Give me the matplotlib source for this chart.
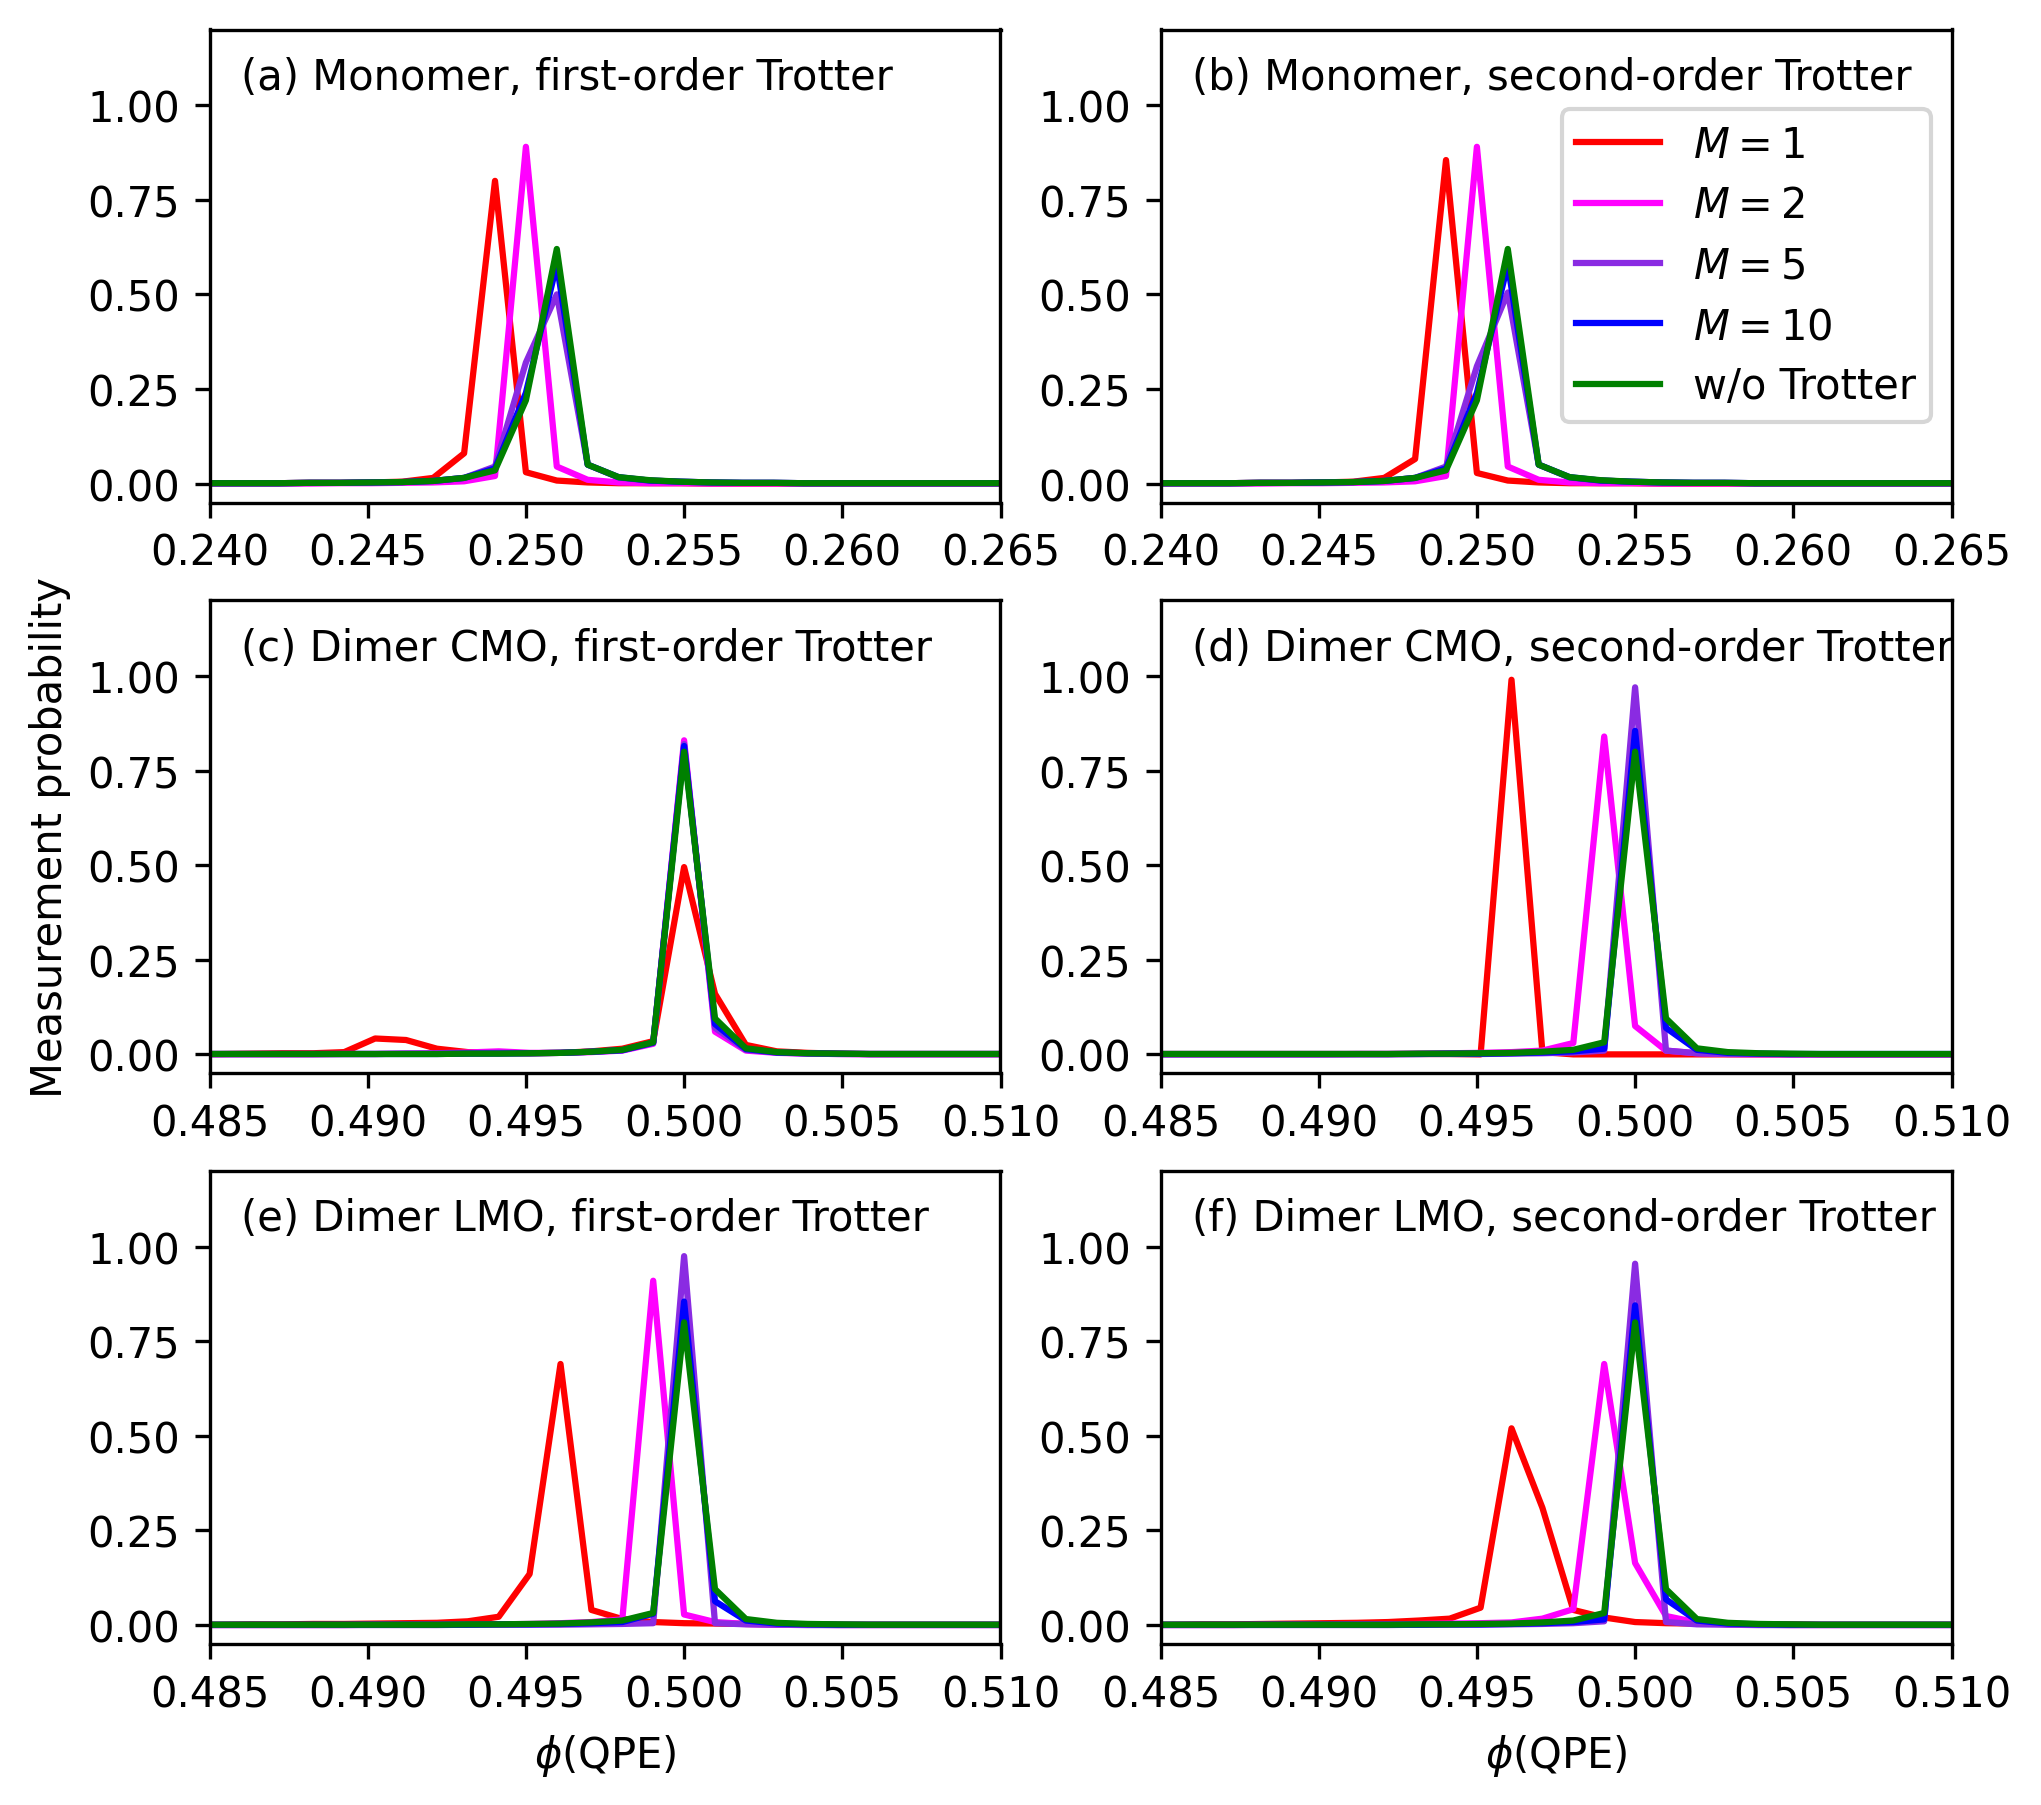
#!/usr/bin/env python3
"""QPE measurement probability for monomer / dimer, first- and second-order Trotter."""

import matplotlib
matplotlib.use("Agg")
import matplotlib.pyplot as plt
import numpy as np

# ---------------------------------------------------------------------------
# 10-qubit phase register -> bins of 1/1024
N_BINS = 1024
BINS_MONO = list(range(245, 273))    # phi ~ 0.239 .. 0.266
BINS_DIMER = list(range(496, 524))   # phi ~ 0.484 .. 0.511

LABELS = ["$M=1$", "$M=2$", "$M=5$", "$M=10$", "w/o Trotter"]
COLORS = ["red", "magenta", "blueviolet", "blue", "green"]

# --- (a) monomer, first order ---------------------------------------------
#            245    246    247    248    249    250    251    252    253    254    255    256    257    258    259    260    261    262    263    264    265    266    267    268    269    270    271    272
A_M1  = [0.001, 0.001, 0.001, 0.001, 0.002, 0.002, 0.003, 0.005, 0.015, 0.080, 0.800, 0.030, 0.008, 0.003, 0.001, 0.001, 0.001, 0.000, 0.000, 0.000, 0.000, 0.000, 0.000, 0.000, 0.000, 0.000, 0.000, 0.000]
A_M2  = [0.000, 0.000, 0.000, 0.000, 0.000, 0.001, 0.001, 0.002, 0.003, 0.006, 0.020, 0.890, 0.045, 0.010, 0.003, 0.001, 0.001, 0.000, 0.000, 0.000, 0.000, 0.000, 0.000, 0.000, 0.000, 0.000, 0.000, 0.000]
A_M5  = [0.001, 0.001, 0.001, 0.001, 0.002, 0.002, 0.003, 0.004, 0.007, 0.015, 0.045, 0.320, 0.500, 0.050, 0.016, 0.008, 0.005, 0.003, 0.002, 0.002, 0.001, 0.001, 0.001, 0.001, 0.001, 0.001, 0.001, 0.001]
A_M10 = [0.001, 0.001, 0.001, 0.001, 0.002, 0.002, 0.003, 0.004, 0.007, 0.015, 0.040, 0.240, 0.580, 0.050, 0.017, 0.008, 0.005, 0.003, 0.002, 0.002, 0.001, 0.001, 0.001, 0.001, 0.001, 0.001, 0.001, 0.001]
A_EX  = [0.001, 0.001, 0.001, 0.001, 0.002, 0.002, 0.003, 0.004, 0.007, 0.015, 0.035, 0.220, 0.620, 0.050, 0.017, 0.009, 0.005, 0.003, 0.002, 0.002, 0.001, 0.001, 0.001, 0.001, 0.001, 0.001, 0.001, 0.001]

# --- (b) monomer, second order --------------------------------------------
B_M1  = [0.001, 0.001, 0.001, 0.001, 0.002, 0.002, 0.003, 0.005, 0.015, 0.065, 0.855, 0.028, 0.008, 0.003, 0.001, 0.001, 0.001, 0.000, 0.000, 0.000, 0.000, 0.000, 0.000, 0.000, 0.000, 0.000, 0.000, 0.000]
B_M2  = [0.000, 0.000, 0.000, 0.000, 0.000, 0.001, 0.001, 0.002, 0.003, 0.006, 0.020, 0.890, 0.045, 0.010, 0.003, 0.001, 0.001, 0.000, 0.000, 0.000, 0.000, 0.000, 0.000, 0.000, 0.000, 0.000, 0.000, 0.000]
B_M5  = [0.001, 0.001, 0.001, 0.001, 0.002, 0.002, 0.003, 0.004, 0.007, 0.015, 0.045, 0.310, 0.505, 0.050, 0.016, 0.008, 0.005, 0.003, 0.002, 0.002, 0.001, 0.001, 0.001, 0.001, 0.001, 0.001, 0.001, 0.001]
B_M10 = [0.001, 0.001, 0.001, 0.001, 0.002, 0.002, 0.003, 0.004, 0.007, 0.015, 0.040, 0.240, 0.580, 0.050, 0.017, 0.008, 0.005, 0.003, 0.002, 0.002, 0.001, 0.001, 0.001, 0.001, 0.001, 0.001, 0.001, 0.001]
B_EX  = [0.001, 0.001, 0.001, 0.001, 0.002, 0.002, 0.003, 0.004, 0.007, 0.015, 0.035, 0.220, 0.620, 0.050, 0.017, 0.009, 0.005, 0.003, 0.002, 0.002, 0.001, 0.001, 0.001, 0.001, 0.001, 0.001, 0.001, 0.001]

# --- dimer, exact (same for CMO / LMO) ------------------------------------
#            496    497    498    499    500    501    502    503    504    505    506    507    508    509    510    511    512    513    514    515    516    517    518    519    520    521    522    523
D_EX  = [0.001, 0.001, 0.001, 0.001, 0.001, 0.001, 0.001, 0.001, 0.001, 0.002, 0.002, 0.003, 0.004, 0.007, 0.012, 0.032, 0.800, 0.095, 0.016, 0.006, 0.003, 0.002, 0.001, 0.001, 0.001, 0.001, 0.001, 0.001]

# --- (c) dimer CMO, first order -------------------------------------------
C_M1  = [0.001, 0.001, 0.002, 0.003, 0.003, 0.006, 0.042, 0.038, 0.015, 0.006, 0.004, 0.003, 0.004, 0.008, 0.015, 0.035, 0.495, 0.160, 0.025, 0.008, 0.004, 0.002, 0.001, 0.001, 0.001, 0.001, 0.001, 0.001]
C_M2  = [0.000, 0.000, 0.000, 0.000, 0.000, 0.001, 0.001, 0.002, 0.003, 0.005, 0.008, 0.004, 0.004, 0.006, 0.010, 0.028, 0.830, 0.060, 0.010, 0.004, 0.002, 0.001, 0.000, 0.000, 0.000, 0.000, 0.000, 0.000]
C_M5  = [0.001, 0.001, 0.001, 0.001, 0.001, 0.001, 0.001, 0.002, 0.002, 0.003, 0.004, 0.003, 0.004, 0.007, 0.011, 0.030, 0.820, 0.070, 0.012, 0.005, 0.002, 0.001, 0.001, 0.001, 0.001, 0.001, 0.001, 0.001]
C_M10 = [0.001, 0.001, 0.001, 0.001, 0.001, 0.001, 0.001, 0.001, 0.001, 0.002, 0.002, 0.003, 0.004, 0.007, 0.011, 0.031, 0.815, 0.080, 0.014, 0.005, 0.003, 0.002, 0.001, 0.001, 0.001, 0.001, 0.001, 0.001]

# --- (d) dimer CMO, second order ------------------------------------------
Dc_M1  = [0.001, 0.001, 0.001, 0.001, 0.001, 0.001, 0.001, 0.001, 0.001, 0.001, 0.001, 0.000, 0.990, 0.006, 0.000, 0.000, 0.000, 0.000, 0.000, 0.000, 0.000, 0.000, 0.000, 0.000, 0.000, 0.000, 0.000, 0.000]
Dc_M2  = [0.000, 0.000, 0.000, 0.000, 0.000, 0.000, 0.000, 0.001, 0.001, 0.002, 0.003, 0.004, 0.006, 0.010, 0.030, 0.840, 0.075, 0.010, 0.003, 0.001, 0.000, 0.000, 0.000, 0.000, 0.000, 0.000, 0.000, 0.000]
Dc_M5  = [0.000, 0.000, 0.000, 0.000, 0.000, 0.000, 0.000, 0.000, 0.000, 0.001, 0.001, 0.001, 0.002, 0.003, 0.005, 0.010, 0.970, 0.010, 0.003, 0.001, 0.001, 0.000, 0.000, 0.000, 0.000, 0.000, 0.000, 0.000]
Dc_M10 = [0.001, 0.001, 0.001, 0.001, 0.001, 0.001, 0.001, 0.001, 0.001, 0.001, 0.002, 0.002, 0.003, 0.005, 0.008, 0.015, 0.855, 0.070, 0.012, 0.004, 0.002, 0.001, 0.001, 0.001, 0.001, 0.001, 0.001, 0.001]

# --- (e) dimer LMO, first order -------------------------------------------
E_M1  = [0.001, 0.001, 0.002, 0.002, 0.003, 0.003, 0.004, 0.005, 0.006, 0.010, 0.022, 0.135, 0.690, 0.040, 0.016, 0.008, 0.005, 0.004, 0.003, 0.002, 0.002, 0.001, 0.001, 0.001, 0.001, 0.001, 0.001, 0.001]
E_M2  = [0.000, 0.000, 0.000, 0.000, 0.000, 0.000, 0.001, 0.001, 0.001, 0.002, 0.002, 0.003, 0.005, 0.008, 0.015, 0.910, 0.028, 0.008, 0.003, 0.001, 0.001, 0.000, 0.000, 0.000, 0.000, 0.000, 0.000, 0.000]
E_M5  = [0.000, 0.000, 0.000, 0.000, 0.000, 0.000, 0.000, 0.000, 0.000, 0.001, 0.001, 0.001, 0.001, 0.002, 0.003, 0.005, 0.975, 0.005, 0.002, 0.001, 0.000, 0.000, 0.000, 0.000, 0.000, 0.000, 0.000, 0.000]
E_M10 = [0.001, 0.001, 0.001, 0.001, 0.001, 0.001, 0.001, 0.001, 0.001, 0.001, 0.002, 0.002, 0.003, 0.005, 0.008, 0.030, 0.855, 0.063, 0.012, 0.004, 0.002, 0.001, 0.001, 0.001, 0.001, 0.001, 0.001, 0.001]

# --- (f) dimer LMO, second order ------------------------------------------
F_M1  = [0.001, 0.001, 0.002, 0.002, 0.003, 0.004, 0.005, 0.006, 0.008, 0.012, 0.017, 0.046, 0.520, 0.310, 0.040, 0.020, 0.008, 0.005, 0.004, 0.003, 0.002, 0.002, 0.001, 0.001, 0.001, 0.001, 0.001, 0.001]
F_M2  = [0.000, 0.000, 0.000, 0.000, 0.001, 0.001, 0.001, 0.002, 0.002, 0.003, 0.004, 0.005, 0.007, 0.017, 0.042, 0.690, 0.164, 0.024, 0.007, 0.002, 0.001, 0.000, 0.000, 0.000, 0.000, 0.000, 0.000, 0.000]
F_M5  = [0.000, 0.000, 0.000, 0.000, 0.000, 0.000, 0.000, 0.000, 0.000, 0.001, 0.001, 0.001, 0.002, 0.003, 0.005, 0.010, 0.955, 0.008, 0.002, 0.001, 0.000, 0.000, 0.000, 0.000, 0.000, 0.000, 0.000, 0.000]
F_M10 = [0.001, 0.001, 0.001, 0.001, 0.001, 0.001, 0.001, 0.001, 0.001, 0.001, 0.002, 0.002, 0.003, 0.005, 0.008, 0.015, 0.845, 0.068, 0.012, 0.004, 0.002, 0.001, 0.001, 0.001, 0.001, 0.001, 0.001, 0.001]

PANELS = [
    ("(a) Monomer, first-order Trotter",    BINS_MONO,  [A_M1, A_M2, A_M5, A_M10, A_EX]),
    ("(b) Monomer, second-order Trotter",   BINS_MONO,  [B_M1, B_M2, B_M5, B_M10, B_EX]),
    ("(c) Dimer CMO, first-order Trotter",  BINS_DIMER, [C_M1, C_M2, C_M5, C_M10, D_EX]),
    ("(d) Dimer CMO, second-order Trotter", BINS_DIMER, [Dc_M1, Dc_M2, Dc_M5, Dc_M10, D_EX]),
    ("(e) Dimer LMO, first-order Trotter",  BINS_DIMER, [E_M1, E_M2, E_M5, E_M10, D_EX]),
    ("(f) Dimer LMO, second-order Trotter", BINS_DIMER, [F_M1, F_M2, F_M5, F_M10, D_EX]),
]
XLIMS = [(0.240, 0.265), (0.240, 0.265),
         (0.485, 0.510), (0.485, 0.510),
         (0.485, 0.510), (0.485, 0.510)]

# ---------------------------------------------------------------------------

def main():
    W, H = 2041, 1806
    dpi = 300
    fig = plt.figure(figsize=(W / dpi, H / dpi), dpi=dpi)

    lefts   = [209.5 / W, 1160.5 / W]
    bottoms = [1 - 503.5 / H, 1 - 1074.3 / H, 1 - 1645 / H]
    aw, ah  = 791 / W, 473 / H

    axes = []
    for i, (title, bins, series) in enumerate(PANELS):
        row, col = divmod(i, 2)
        ax = fig.add_axes([lefts[col], bottoms[row], aw, ah])
        phi = np.array(bins) / N_BINS
        for ys, lab, c in zip(series, LABELS, COLORS):
            ax.plot(phi, ys, color=c, lw=1.5, label=lab)
        ax.set_xlim(*XLIMS[i])
        ax.set_ylim(-0.05, 1.2)
        ax.set_yticks([0.0, 0.25, 0.5, 0.75, 1.0])
        ax.set_xticks(np.linspace(XLIMS[i][0], XLIMS[i][1], 6))
        ax.text(0.04, 0.9, title, transform=ax.transAxes,
                ha="left", va="center", fontsize=10)
        if row == 2:
            ax.set_xlabel(r"$\phi$(QPE)")
        axes.append(ax)

    axes[2].set_ylabel("Measurement probability")
    axes[1].legend(loc="upper right", bbox_to_anchor=(1.0, 0.875),
                   labelspacing=0.44, borderpad=0.35)

    fig.savefig("out.png", dpi=dpi)
    plt.close(fig)


if __name__ == "__main__":
    main()
